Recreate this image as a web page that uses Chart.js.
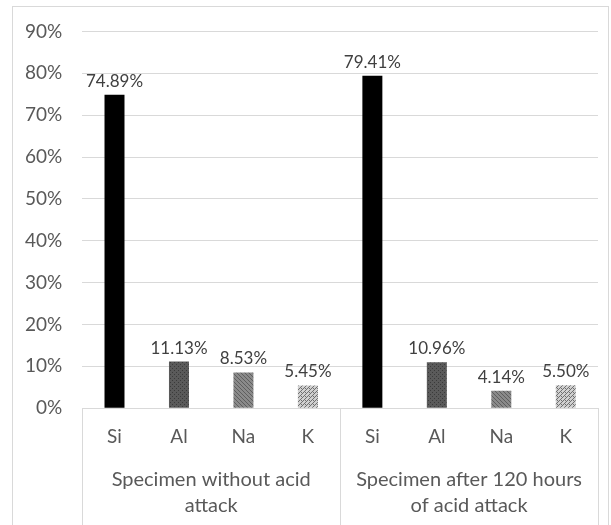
<!DOCTYPE html>
<html>
<head>
<meta charset="utf-8">
<script src="https://cdn.jsdelivr.net/npm/chart.js@4"></script>
<style>
  html, body { margin: 0; padding: 0; background: #fff; overflow: hidden; }
  #frame { position: absolute; left: 12px; top: 6px; width: 597px; height: 540px; border: 1px solid #d9d9d9; box-sizing: border-box; }
  #wrap { position: absolute; left: 0; top: 0; width: 611px; height: 525px; }
</style>
</head>
<body>
<div id="frame"></div>
<div id="wrap"><canvas id="chart" width="611" height="525"></canvas></div>
<script>
const elements = ['Si', 'Al', 'Na', 'K', 'Si', 'Al', 'Na', 'K']
const groups = [['Specimen without acid', 'attack'], ['Specimen after 120 hours', 'of acid attack']]
const values = [74.89, 11.13, 8.53, 5.45, 79.41, 10.96, 4.14, 5.50]
const yTicks = [0, 10, 20, 30, 40, 50, 60, 70, 80, 90]

const textColor = '#595959'
const fontFamily = 'Lato, "Noto Sans", sans-serif'

// little fill patterns like the excel ones
function makePattern(bg, fg, kind){
  const c = document.createElement('canvas')
  c.width = 4; c.height = 4
  const g = c.getContext('2d')
  g.fillStyle = bg
  g.fillRect(0, 0, 4, 4)
  g.fillStyle = fg
  if(kind === 'dots'){
    g.fillRect(0, 0, 1, 1)
    g.fillRect(2, 2, 1, 1)
  }
  else if(kind === 'back'){ // \\\ lines
    for(let i = 0; i < 4; i++) g.fillRect(i, i, 1, 1)
  }
  else { // /// lines
    for(let i = 0; i < 4; i++) g.fillRect(3 - i, i, 1, 1)
    g.fillRect(1, 0, 1, 1)
  }
  return document.getElementById('chart').getContext('2d').createPattern(c, 'repeat')
}

const fillSi = '#000000'
const fillAl = makePattern('#5a5a5a', '#3a3a3a', 'dots')
const fillNa = makePattern('#8a8a8a', '#5e5e5e', 'back')
const fillK = makePattern('#d0d0d0', '#707070', 'fwd')
const fills = [fillSi, fillAl, fillNa, fillK, fillSi, fillAl, fillNa, fillK]

const valueLabels = {
  id: 'valueLabels',
  afterDatasetsDraw(chart){
    const ctx = chart.ctx
    const meta = chart.getDatasetMeta(0)
    ctx.save()
    ctx.fillStyle = '#404040'
    ctx.font = '17px ' + fontFamily
    ctx.textAlign = 'center'
    ctx.textBaseline = 'bottom'
    meta.data.forEach((bar, i) => {
      ctx.fillText(values[i].toFixed(2) + '%', bar.x, bar.y - 5)
    })
    ctx.restore()
  }
}

// lines that split the category axis box
const groupLines = {
  id: 'groupLines',
  afterDraw(chart){
    const x = chart.scales.x
    const ctx = chart.ctx
    const top = chart.chartArea.bottom
    const bottom = chart.height
    const mid = (x.getPixelForValue(3) + x.getPixelForValue(4)) / 2
    ctx.save()
    ctx.strokeStyle = '#d9d9d9'
    ctx.lineWidth = 1
    ;[x.left, mid, x.right].forEach(px => {
      const p = Math.round(px) + 0.5
      ctx.beginPath()
      ctx.moveTo(p, top)
      ctx.lineTo(p, bottom)
      ctx.stroke()
    })
    ctx.restore()
  }
}

new Chart(document.getElementById('chart'), {
  type: 'bar',
  data: {
    labels: elements,
    datasets: [{
      data: values,
      backgroundColor: fills,
      borderWidth: 0,
      barPercentage: 0.62,
      categoryPercentage: 0.5
    }]
  },
  plugins: [valueLabels, groupLines],
  options: {
    responsive: false,
    animation: false,
    layout: { padding: { left: 5, right: 13, top: 26, bottom: 4 } },
    plugins: {
      legend: { display: false },
      tooltip: { enabled: false }
    },
    scales: {
      x: {
        grid: { display: false, drawTicks: false },
        border: { display: true, color: '#d9d9d9' },
        ticks: { color: textColor, font: { size: 19, family: fontFamily }, padding: 17 }
      },
      x2: {
        type: 'category',
        labels: groups,
        position: 'bottom',
        grid: { display: false, drawTicks: false },
        border: { display: false },
        ticks: { color: textColor, font: { size: 20, family: fontFamily, lineHeight: 1.3 }, padding: 2 }
      },
      y: {
        min: 0,
        max: 90,
        afterBuildTicks(axis){ axis.ticks = yTicks.map(v => ({ value: v })) },
        grid: { color: '#d9d9d9', drawTicks: false },
        border: { display: false },
        ticks: {
          color: textColor,
          font: { size: 19, family: fontFamily },
          padding: 20,
          callback: v => v + '%'
        }
      }
    }
  }
})
</script>
</body>
</html>
